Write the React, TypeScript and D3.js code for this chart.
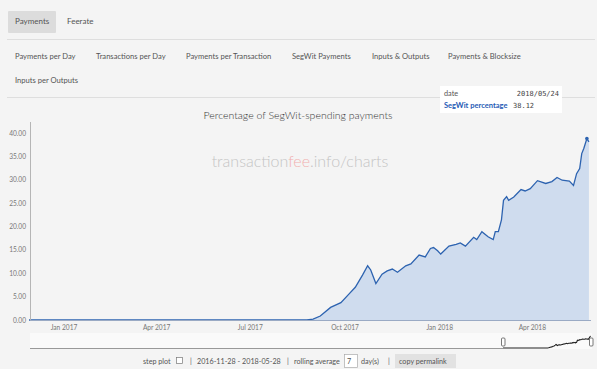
import React from 'react'
import * as d3 from 'd3'

// SegWit percentage (7-day rolling average)
const dates = [
  '2016-11-28', '2017-08-25', '2017-08-31', '2017-09-07', '2017-09-17', '2017-09-27',
  '2017-10-05', '2017-10-11', '2017-10-18', '2017-10-23', '2017-10-26', '2017-10-31',
  '2017-11-06', '2017-11-11', '2017-11-16', '2017-11-21', '2017-11-29', '2017-12-04',
  '2017-12-12', '2017-12-18', '2017-12-23', '2017-12-26', '2017-12-30', '2018-01-02',
  '2018-01-10', '2018-01-17', '2018-01-21', '2018-01-26', '2018-02-03', '2018-02-06',
  '2018-02-11', '2018-02-17', '2018-02-22', '2018-02-24', '2018-02-27', '2018-03-02',
  '2018-03-04', '2018-03-07', '2018-03-09', '2018-03-14', '2018-03-21', '2018-03-25',
  '2018-03-30', '2018-04-06', '2018-04-14', '2018-04-20', '2018-04-25', '2018-04-30',
  '2018-05-07', '2018-05-11', '2018-05-14', '2018-05-17', '2018-05-19', '2018-05-21',
  '2018-05-24', '2018-05-26'
]
const segwitPct = [
  0, 0, 0.2, 0.85, 2.7, 3.7,
  5.6, 7.0, 9.6, 11.6, 10.7, 7.8,
  9.8, 10.5, 10.9, 10.2, 11.6, 12.0,
  13.9, 13.5, 15.3, 15.5, 14.8, 14.1,
  15.8, 16.2, 16.5, 15.8, 17.7, 17.2,
  18.9, 17.8, 17.2, 18.9, 18.9, 21.4,
  25.6, 26.4, 25.6, 26.3, 27.9, 27.6,
  28.1, 29.8, 29.2, 29.6, 30.5, 29.9,
  29.7, 28.8, 31.3, 32.4, 35.6, 36.7,
  38.8, 38.12
]
const yTicks = [0, 5, 10, 15, 20, 25, 30, 35, 40]
const xTickDates = ['2017-01-01', '2017-04-01', '2017-07-01', '2017-10-01', '2018-01-01', '2018-04-01']
const xTickLabels = ['Jan 2017', 'Apr 2017', 'Jul 2017', 'Oct 2017', 'Jan 2018', 'Apr 2018']
const mainTabs = ['Payments', 'Feerate']
const subTabs = ['Payments per Day', 'Transactions per Day', 'Payments per Transaction', 'SegWit Payments', 'Inputs & Outputs', 'Payments & Blocksize']
const subTabX = [15, 96, 186, 292, 372, 448]

const parse = d3.timeParse('%Y-%m-%d')
const FONT = 'Lato, "Open Sans", sans-serif'
const TXT = '#555'

const App: React.FC = () => {
  const width = 600
  const height = 373
  const data = dates.map((d, i) => ({ date: parse(d) as Date, value: segwitPct[i] }))

  const xScale = d3
    .scaleTime()
    .domain([parse('2016-11-28') as Date, parse('2018-05-28') as Date])
    .range([29, 591])
  const yScale = d3.scaleLinear().domain([0, 40]).range([320, 133])

  const line = d3
    .line<{ date: Date; value: number }>()
    .x((d) => xScale(d.date))
    .y((d) => yScale(d.value))
  const area = d3
    .area<{ date: Date; value: number }>()
    .x((d) => xScale(d.date))
    .y0(yScale(0))
    .y1((d) => yScale(d.value))

  // range selector mini plot (selected window sits at the right end)
  const miniX = d3.scaleTime().domain(xScale.domain()).range([503, 591])
  const miniY = d3.scaleLinear().domain([0, 40]).range([348, 336])
  const miniLine = d3
    .line<{ date: Date; value: number }>()
    .x((d) => miniX(d.date))
    .y((d) => miniY(d.value))

  const last = data[data.length - 1]

  return (
    <div style={{ position: 'fixed', left: 0, top: 0 }}>
      <svg width={width} height={height} style={{ display: 'block', background: '#fff' }}>
        <rect x={0} y={0} width={597} height={369} fill="#f4f4f4" />

        {/* tabs */}
        <rect x={8} y={11} width={48} height={22} fill="#dcdcdc" rx={1} />
        {mainTabs.map((t, i) => (
          <text key={t} x={i === 0 ? 15 : 67} y={24} fontFamily={FONT} fontSize={8} fill={TXT}>{t}</text>
        ))}
        <line x1={7} x2={595} y1={39.5} y2={39.5} stroke="#dedede" />
        {subTabs.map((t, i) => (
          <text key={t} x={subTabX[i]} y={59} fontFamily={FONT} fontSize={7.6} fill={TXT}>{t}</text>
        ))}
        <text x={15} y={83} fontFamily={FONT} fontSize={7.6} fill={TXT}>Inputs per Outputs</text>
        <line x1={7} x2={595} y1={97.5} y2={97.5} stroke="#dedede" />

        {/* title + watermark */}
        <text x={298} y={119} textAnchor="middle" fontFamily={FONT} fontWeight={300} fontSize={10.5} fill="#333">
          Percentage of SegWit-spending payments
        </text>
        <text x={300} y={167} textAnchor="middle" fontFamily={FONT} fontWeight={300} fontSize={16} fill="#c4c4c4">
          transaction<tspan fill="#f2b0b0">fee</tspan>.info/charts
        </text>

        {/* data */}
        <path d={area(data) || ''} fill="#cfdcee" />
        <path d={line(data) || ''} fill="none" stroke="#2d63b0" strokeWidth={1.3} />
        <circle cx={xScale(data[data.length - 2].date)} cy={yScale(data[data.length - 2].value)} r={1.8} fill="#2d63b0" />

        {/* axes */}
        <line x1={30.5} x2={30.5} y1={122} y2={320} stroke="#b5b5b5" />
        <line x1={30} x2={591} y1={320.5} y2={320.5} stroke="#9aaac4" />
        {yTicks.map((t) => (
          <text key={t} x={26} y={yScale(t) + 2.5} textAnchor="end" fontFamily={FONT} fontSize={6.6} fill="#777">
            {d3.format('.2f')(t)}
          </text>
        ))}
        {xTickDates.map((d, i) => (
          <text key={d} x={xScale(parse(d) as Date)} y={330} textAnchor="middle" fontFamily={FONT} fontSize={6.6} fill="#777">
            {xTickLabels[i]}
          </text>
        ))}

        {/* legend tooltip */}
        <rect x={440} y={86} width={122} height={27} fill="#fff" />
        <text x={444} y={96} fontFamily={FONT} fontSize={7.3} fill="#555">date</text>
        <text x={559} y={96} textAnchor="end" fontFamily="'DejaVu Sans Mono', monospace" fontSize={7} fill="#444">
          {d3.timeFormat('%Y/%m/%d')(parse('2018-05-24') as Date)}
        </text>
        <text x={444} y={108} fontFamily={FONT} fontSize={7.5} fontWeight="bold" fill="#1f5bb5">SegWit percentage</text>
        <text x={513} y={108} fontFamily="'DejaVu Sans Mono', monospace" fontSize={7} fill="#444">
          {d3.format('.2f')(last.value)}
        </text>

        {/* range selector */}
        <rect x={30} y={333} width={562} height={16} fill="#fafafa" />
        <line x1={30} x2={503} y1={348.5} y2={348.5} stroke="#999" />
        <path d={miniLine(data) || ''} fill="none" stroke="#222" strokeWidth={1.1} />
        {[503, 591].map((hx) => (
          <rect key={hx} x={hx - 1.5} y={338} width={3.5} height={8} fill="#fff" stroke="#555" strokeWidth={0.8} rx={1} />
        ))}

        {/* controls */}
        <text x={143} y={364} fontFamily={FONT} fontSize={7.2} fill={TXT}>step plot</text>
        <rect x={176.5} y={357.5} width={6} height={6} fill="#fff" stroke="#777" strokeWidth={0.7} />
        <text x={190} y={364} fontFamily={FONT} fontSize={7.2} fill={TXT}>|</text>
        <text x={197} y={364} fontFamily={FONT} fontSize={7.2} fill={TXT}>2016-11-28 - 2018-05-28</text>
        <text x={287} y={364} fontFamily={FONT} fontSize={7.2} fill={TXT}>|</text>
        <text x={294} y={364} fontFamily={FONT} fontSize={7.2} fill={TXT}>rolling average</text>
        <rect x={344.5} y={354.5} width={13} height={13} fill="#fff" stroke="#aaa" strokeWidth={0.7} />
        <text x={347} y={364} fontFamily={FONT} fontSize={7.2} fill={TXT}>7</text>
        <text x={361} y={364} fontFamily={FONT} fontSize={7.2} fill={TXT}>day(s)</text>
        <text x={388} y={364} fontFamily={FONT} fontSize={7.2} fill={TXT}>|</text>
        <rect x={395} y={354} width={61} height={14} fill="#e2e2e2" />
        <text x={399} y={364} fontFamily={FONT} fontSize={7.2} fill={TXT}>copy permalink</text>
      </svg>
    </div>
  )
}

export default App
